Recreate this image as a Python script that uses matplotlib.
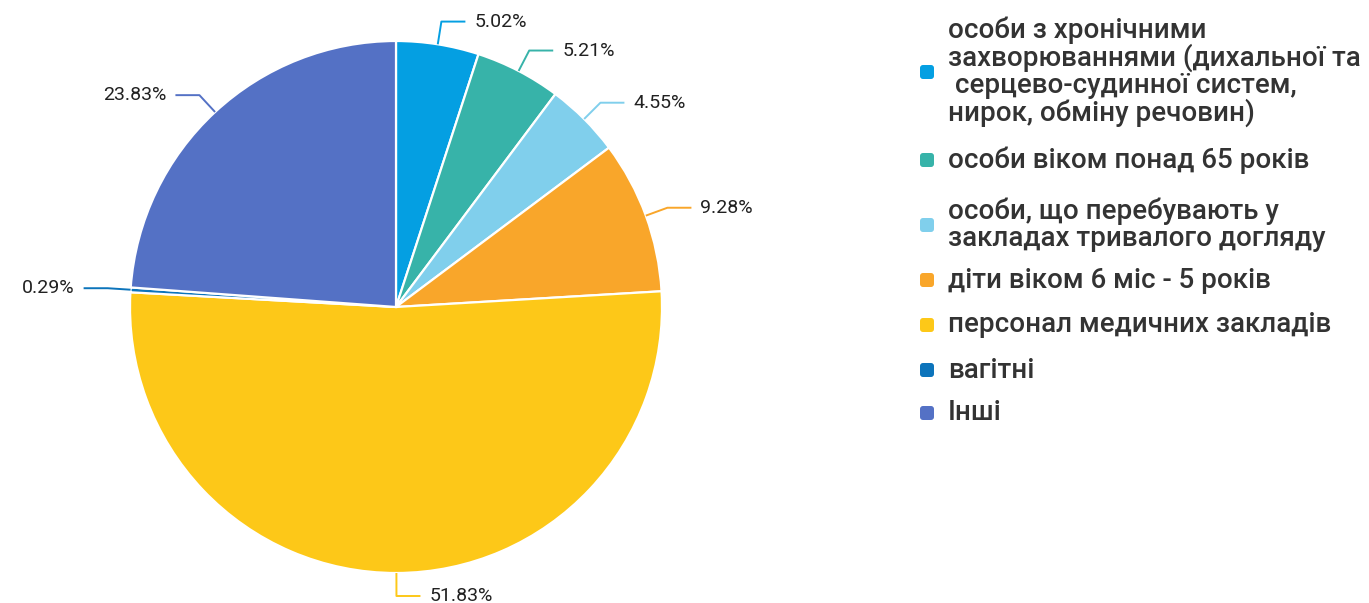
import numpy as np
import matplotlib.pyplot as plt
from matplotlib.patches import FancyBboxPatch

W, H = 1369, 603

categories = [
    "особи з хронічними\nзахворюваннями (дихальної та\n серцево-судинної систем,\nнирок, обміну речовин)",
    "особи віком понад 65 років",
    "особи, що перебувають у\nзакладах тривалого догляду",
    "діти віком 6 міс - 5 років",
    "персонал медичних закладів",
    "вагітні",
    "Інші",
]
shares = [5.02, 5.21, 4.55, 9.28, 51.83, 0.29, 23.83]
colors = ["#049fe2", "#37b3a9", "#80cfec", "#f9a62a", "#fdc818", "#0c74bb", "#5471c5"]

plt.rcParams["font.family"] = ["Roboto", "DejaVu Sans"]

fig = plt.figure(figsize=(W / 100, H / 100), dpi=100)
ax = fig.add_axes([0, 0, 1, 1])

cx, cy, r = 396, H - 307, 266
ax.pie(shares, colors=colors, startangle=90, counterclock=False,
       center=(cx, cy), radius=r,
       wedgeprops={"edgecolor": "white", "linewidth": 1.6})
ax.set_xlim(0, W)
ax.set_ylim(0, H)
ax.set_aspect("equal")
ax.axis("off")

# leader lines + percentage labels
cum = np.cumsum(shares) - np.array(shares) / 2
for val, c, mid in zip(shares, colors, cum):
    ang = np.deg2rad(90 - 360 * mid / 100)
    dx, dy = np.cos(ang), np.sin(ang)
    p0 = (cx + r * dx, cy + r * dy)
    p1 = (cx + (r + 23) * dx, cy + (r + 23) * dy)
    side = 1 if dx >= 0 else -1
    p2 = (p1[0] + side * 24, p1[1])
    ax.plot([p0[0], p1[0], p2[0]], [p0[1], p1[1], p2[1]], color=c, lw=1.4,
            solid_capstyle="butt")
    ax.text(p2[0] + side * 9, p2[1], f"{val:.2f}%", fontsize=14, color="#212121",
            ha="left" if side > 0 else "right", va="center")

# legend drawn by hand
leg_y = [72, 160, 225, 280, 325, 370, 413]
for lab, c, y in zip(categories, colors, leg_y):
    ax.add_patch(FancyBboxPatch((920, H - y - 7), 14, 14,
                                boxstyle="round,pad=0,rounding_size=3",
                                facecolor=c, edgecolor="none"))
    ax.text(948, H - y, lab, fontsize=20, color="#333333", ha="left",
            va="center", linespacing=0.98, fontweight="medium")

fig.savefig("out.png", dpi=100)
